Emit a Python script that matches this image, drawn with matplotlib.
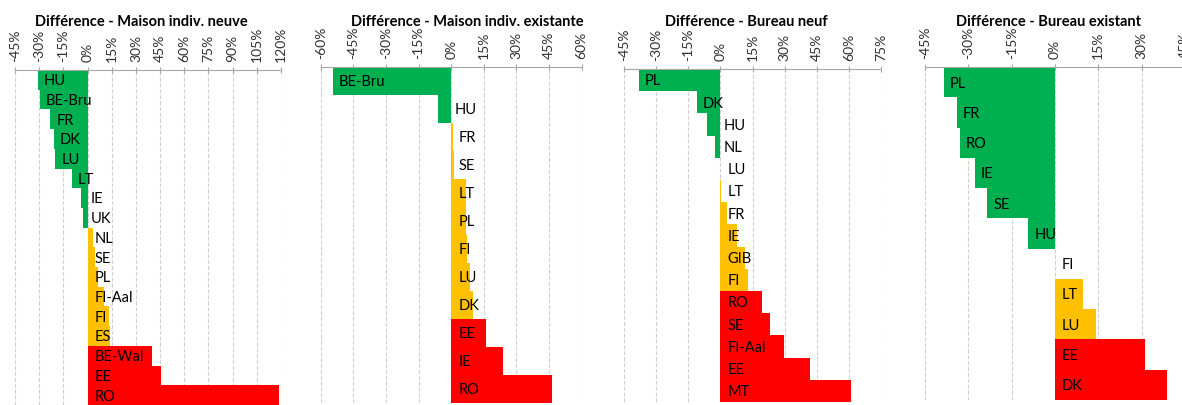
import matplotlib.pyplot as plt
import numpy as np

plt.rcParams['font.family'] = ['Lato', 'DejaVu Sans']

# Maison indiv. neuve
pays1 = ['HU', 'BE-Bru', 'FR', 'DK', 'LU', 'LT', 'IE', 'UK', 'NL', 'SE', 'PL',
         'FI-Aal', 'FI', 'ES', 'BE-Wal', 'EE', 'RO']
diff1 = [-31, -29.5, -23, -21, -20, -9.8, -4.3, -2.9, 3.5, 4.5, 6.6,
         10.4, 13, 14, 40, 45.7, 119]

# Maison indiv. existante
pays2 = ['BE-Bru', 'HU', 'FR', 'SE', 'LT', 'PL', 'FI', 'LU', 'DK', 'EE', 'IE', 'RO']
diff2 = [-54.4, -6, 0.75, 1.5, 6.9, 7, 7.4, 8.6, 10, 15.8, 23.8, 46.2]

# Bureau neuf
pays3 = ['PL', 'DK', 'HU', 'NL', 'LU', 'LT', 'FR', 'IE', 'GIB', 'FI', 'RO', 'SE',
         'FI-Aal', 'EE', 'MT']
diff3 = [-38.2, -11, -6.2, -2.5, 0, 0.5, 3, 7.8, 11.4, 12.9, 19.6, 23.4,
         29.7, 42, 61.2]

# Bureau existant
pays4 = ['PL', 'FR', 'RO', 'IE', 'SE', 'HU', 'FI', 'LT', 'LU', 'EE', 'DK']
diff4 = [-38.5, -33.9, -33, -27.8, -23.5, -9.3, 0, 9.7, 14.2, 31.2, 38.8]

titres = ['Différence - Maison indiv. neuve', 'Différence - Maison indiv. existante',
          'Différence - Bureau neuf', 'Différence - Bureau existant']
limites = [(-45, 120), (-60, 60), (-45, 75), (-45, 45)]

# position des graphiques en pixels (x0, x1, y haut, y bas) et centre du titre
cadres = [(15, 281, 70, 405), (320.7, 581.7, 67, 403),
          (624, 881, 69, 402), (925, 1185, 67, 400)]
centres_titre = [141, 467, 746, 1048]

W, H = 1182, 405
fig = plt.figure(figsize=(W / 100, H / 100), dpi=100)

def couleur(v):
    if v < 0:
        return '#00B050'
    if v < 15:
        return '#FFC000'
    return '#FF0000'

donnees = [(pays1, diff1), (pays2, diff2), (pays3, diff3), (pays4, diff4)]
for i, (pays, diff) in enumerate(donnees):
    x0, x1, yh, yb = cadres[i]
    ax = fig.add_axes([x0 / W, 1 - yb / H, (x1 - x0) / W, (yb - yh) / H])
    y = np.arange(len(pays))
    ax.barh(y, diff, height=1.0, color=[couleur(v) for v in diff], zorder=2)
    ax.set_xlim(*limites[i])
    ax.set_ylim(len(pays) - 0.5, -0.5)
    ticks = np.arange(limites[i][0], limites[i][1] + 1, 15)
    ax.set_xticks(ticks)
    ax.set_xticklabels([f'{t}%' for t in ticks], rotation=90, fontsize=10,
                       color='#303030')
    ax.xaxis.tick_top()
    ax.tick_params(axis='x', direction='inout', length=4, color='#a6a6a6', pad=4)
    ax.set_yticks([])
    for s in ['bottom', 'left', 'right']:
        ax.spines[s].set_visible(False)
    ax.spines['top'].set_color('#a6a6a6')
    ax.grid(axis='x', color='#d0d0d0', linestyle='--', linewidth=0.8, zorder=0)
    ax.set_axisbelow(True)
    # largeur d'un % en pixels
    ppp = (x1 - x0) / (limites[i][1] - limites[i][0])
    for j, (p, v) in enumerate(zip(pays, diff)):
        if v < 0 and -v * ppp > 14:
            ax.annotate(p, (v, j), xytext=(6 * 0.72, -1), textcoords='offset points',
                        va='center', ha='left', fontsize=10.5, zorder=3)
        elif v < 0:
            ax.annotate(p, (0, j), xytext=(3 * 0.72, -1), textcoords='offset points',
                        va='center', ha='left', fontsize=10.5, zorder=3)
        else:
            ax.annotate(p, (0, j), xytext=(7 * 0.72, -1), textcoords='offset points',
                        va='center', ha='left', fontsize=10.5, zorder=3)
    fig.text(centres_titre[i] / W, 1 - 22 / H, titres[i], ha='center', va='center',
             fontsize=10.5, fontweight='bold')

plt.savefig('out.png', dpi=100)
